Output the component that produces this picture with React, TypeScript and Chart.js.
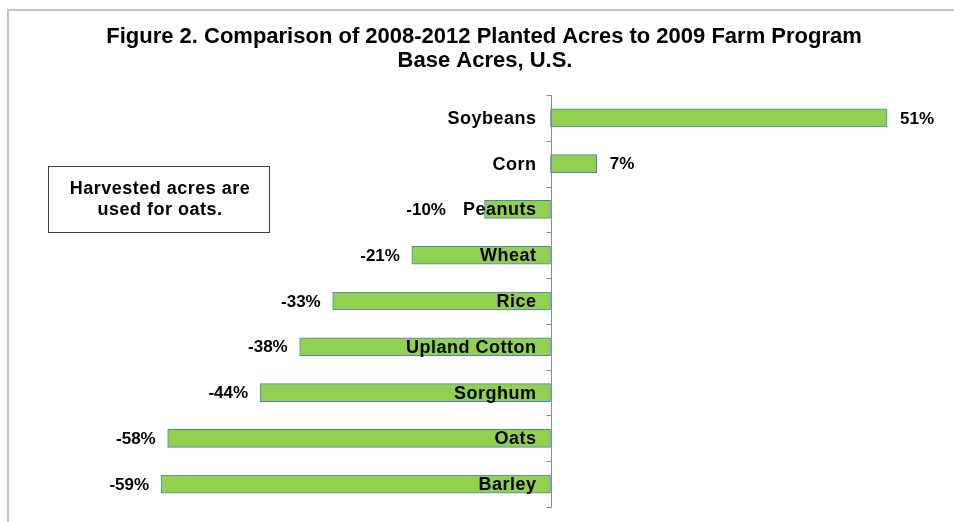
import React, { useEffect, useRef } from "react";
import { Chart, registerables } from "chart.js";

Chart.register(...registerables);

const titleLines = [
  "Figure 2. Comparison of 2008-2012 Planted Acres to 2009 Farm Program",
  "Base Acres, U.S.",
];
const categories = [
  "Soybeans",
  "Corn",
  "Peanuts",
  "Wheat",
  "Rice",
  "Upland Cotton",
  "Sorghum",
  "Oats",
  "Barley",
];
const values = [51, 7, -10, -21, -33, -38, -44, -58, -59];
const valueLabels = ["51%", "7%", "-10%", "-21%", "-33%", "-38%", "-44%", "-58%", "-59%"];
const noteLines = ["Harvested acres are", "used for oats."];

const FONT = '"Liberation Sans", Arial, sans-serif';

const decorPlugin = {
  id: "decor",
  beforeDraw(chart: any) {
    const ctx = chart.ctx;
    ctx.save();
    ctx.fillStyle = "#ffffff";
    ctx.fillRect(0, 0, chart.width, chart.height);
    // outer frame
    ctx.strokeStyle = "#c4c4c4";
    ctx.lineWidth = 2;
    ctx.beginPath();
    ctx.moveTo(8, chart.height + 2);
    ctx.lineTo(8, 10);
    ctx.lineTo(chart.width + 2, 10);
    ctx.stroke();
    // title
    ctx.fillStyle = "#000000";
    ctx.font = `bold 22px ${FONT}`;
    ctx.textAlign = "center";
    ctx.textBaseline = "middle";
    ctx.fillText(titleLines[0], 484, 37);
    ctx.fillText(titleLines[1], 485, 61);
    // note box
    ctx.strokeStyle = "#404040";
    ctx.lineWidth = 1;
    ctx.strokeRect(48.5, 166.5, 221, 66);
    ctx.font = `bold 18px ${FONT}`;
    (ctx as any).letterSpacing = "0.5px";
    ctx.fillText(noteLines[0], 160, 189);
    ctx.fillText(noteLines[1], 160, 210);
    (ctx as any).letterSpacing = "0px";
    ctx.restore();
  },
  afterDatasetsDraw(chart: any) {
    const ctx = chart.ctx;
    const x = chart.scales.x;
    const y = chart.scales.y;
    const x0 = Math.round(x.getPixelForValue(0)) + 0.5;
    const top = chart.chartArea.top;
    const bottom = chart.chartArea.bottom;
    ctx.save();
    // axis line with ticks
    ctx.strokeStyle = "#8a8a8a";
    ctx.lineWidth = 1;
    ctx.beginPath();
    ctx.moveTo(x0, top);
    ctx.lineTo(x0, bottom);
    const n = categories.length;
    for (let i = 0; i <= n; i++) {
      const yy = Math.round(top + ((bottom - top) * i) / n) + 0.5;
      ctx.moveTo(x0 - 5, yy);
      ctx.lineTo(x0, yy);
    }
    ctx.stroke();
    // category labels
    ctx.fillStyle = "#000000";
    ctx.font = `bold 18px ${FONT}`;
    (ctx as any).letterSpacing = "0.5px";
    ctx.textBaseline = "middle";
    const catLeft: number[] = [];
    categories.forEach((c, i) => {
      const yy = y.getPixelForValue(i);
      ctx.textAlign = "right";
      const right = x0 - 15;
      ctx.fillText(c, right, yy + 1);
      catLeft.push(right - ctx.measureText(c).width);
    });
    (ctx as any).letterSpacing = "0px";
    // value labels
    ctx.font = `bold 17px ${FONT}`;
    values.forEach((v, i) => {
      const yy = y.getPixelForValue(i);
      const xe = x.getPixelForValue(v);
      if (v >= 0) {
        ctx.textAlign = "left";
        ctx.fillText(valueLabels[i], xe + 13, yy + 1);
      } else {
        ctx.textAlign = "right";
        const right = Math.min(xe - 12, catLeft[i] - 17);
        ctx.fillText(valueLabels[i], right, yy + 1);
      }
    });
    ctx.restore();
  },
};

export default function App() {
  const ref = useRef<HTMLCanvasElement | null>(null);
  useEffect(() => {
    if (!ref.current) return;
    const chart = new Chart(ref.current, {
      type: "bar",
      data: {
        labels: categories,
        datasets: [
          {
            data: values,
            backgroundColor: "#92D050",
            borderColor: "#4F81BD",
            borderWidth: 1,
            borderSkipped: false,
            barThickness: 18,
          },
        ],
      },
      options: {
        indexAxis: "y",
        animation: false,
        responsive: false,
        maintainAspectRatio: false,
        layout: { padding: { left: 141.3, right: 40.5, top: 95, bottom: 15 } },
        scales: {
          x: { display: false, min: -62, max: 55 },
          y: { display: false },
        },
        plugins: {
          legend: { display: false },
          tooltip: { enabled: false },
          title: { display: false },
        },
      },
      plugins: [decorPlugin],
    });
    return () => chart.destroy();
  }, []);
  return (
    <div style={{ position: "fixed", left: 0, top: 0, width: 954, height: 522, background: "#fff" }}>
      <canvas ref={ref} width={954} height={522} style={{ display: "block", width: 954, height: 522 }} />
    </div>
  );
}
